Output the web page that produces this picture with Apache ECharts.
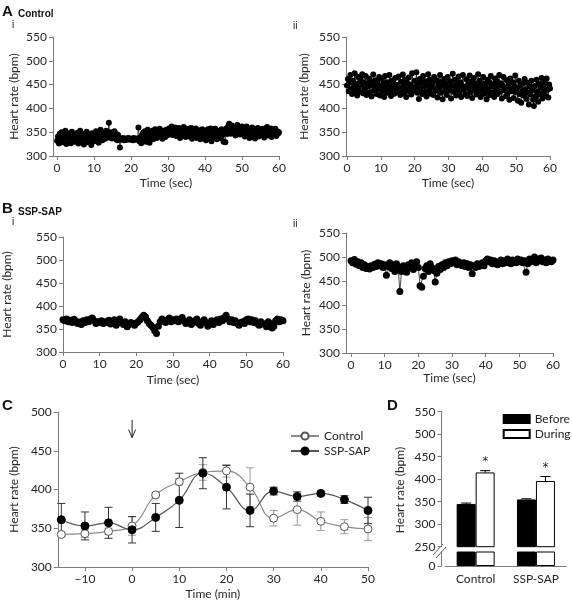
<!DOCTYPE html>
<html><head><meta charset="utf-8">
<script src="https://cdn.jsdelivr.net/npm/echarts@6/dist/echarts.min.js"></script>
<style>html,body{margin:0;padding:0;background:#fff}#c{width:572px;height:601px}</style>
</head><body><div id="c"></div>
<script>
// ---------- DATA ----------
const recordSec = 60;
const timeTicksSec = [0, 10, 20, 30, 40, 50, 60];
// Panel A i: Control, rest (samples evenly spread over 60 s)
const ctrlRest = [
332,341,326,347,336,350,329,344,338,353,325,340,348,333,345,327,351,337,343,330,346,
335,349,326,341,353,332,338,346,324,343,336,351,329,345,334,340,323,348,337,331,
344,352,335,340,328,347,355,338,333,349,342,336,353,345,339,370,344,350,337,346,
341,352,336,347,333,344,338,318,336,334,338,335,333,337,336,334,338,335,337,334,
336,333,338,335,334,337,336,360,331,339,327,344,349,336,352,330,345,355,338,328,
347,340,353,335,349,356,343,338,351,345,357,341,348,336,353,346,340,355,349,344,
358,347,352,362,344,355,349,360,342,353,346,359,338,351,356,345,361,348,340,354,
347,357,341,352,359,336,349,355,343,358,338,350,345,354,335,348,356,340,351,344,
333,349,356,341,346,358,331,352,344,339,357,347,335,353,342,349,338,356,345,330,
351,329,358,346,362,368,353,347,364,356,349,360,343,357,365,350,361,345,355,362,
348,358,341,354,362,346,351,338,357,349,360,343,352,337,355,347,359,341,350,356,
344,357,348,339,355,350,361,343,353,346,358,340,354,349,345,357,342,352,347,350];
// Panel A ii: Control, during
const ctrlActive = [
448,462,436,455,470,441,430,458,446,474,438,452,427,466,444,435,460,450,472,432,455,
440,468,428,452,446,463,434,457,425,449,471,437,444,459,430,453,441,466,427,447,
462,436,451,424,468,442,455,433,447,470,438,426,458,445,452,431,464,440,449,435,
467,443,428,456,439,471,447,432,460,424,453,441,465,436,450,429,474,444,437,458,
445,476,433,451,420,462,440,455,430,468,446,434,457,425,449,472,438,460,431,447,
454,428,466,441,437,459,423,450,444,470,433,456,419,447,462,436,452,428,466,443,
438,457,421,449,473,435,446,460,427,452,441,467,432,455,424,448,470,439,445,430,
461,426,450,443,469,434,456,422,447,464,438,453,429,445,472,436,458,424,449,440,
466,431,452,444,419,460,437,455,428,468,446,433,451,424,463,440,457,430,447,470,
435,453,421,448,466,438,444,426,459,432,450,418,463,441,436,455,422,447,469,434,
443,416,458,430,449,412,452,437,427,462,440,420,454,433,408,446,429,458,438,418,
405,447,425,460,435,414,452,430,444,464,421,448,436,456,426,463,439,423,450,442];
// Panel B i: SSP-SAP, rest
const sspRest = [
370,368,372,366,369,364,371,367,362,365,360,368,364,370,366,372,374,368,362,366,364,
368,362,366,364,369,361,365,370,358,366,372,363,360,366,355,360,364,362,358,363,
366,370,375,380,376,368,362,358,354,346,340,356,366,372,368,364,370,374,366,370,
368,372,366,370,375,368,362,366,370,360,364,368,372,362,358,366,370,364,356,362,
368,360,366,370,364,372,368,375,380,372,366,370,364,368,362,358,364,366,362,370,
372,366,370,364,368,362,358,366,362,360,355,366,362,352,356,368,372,366,370,368];
// Panel B ii: SSP-SAP, during
const sspActive = [
492,488,495,485,490,482,488,478,484,476,480,475,482,478,485,480,488,482,486,478,484,
462,480,488,476,484,470,486,478,428,470,482,476,468,484,478,488,474,482,490,478,
440,437,460,476,482,470,486,478,472,448,466,480,474,484,478,488,482,490,486,492,
488,494,484,490,486,482,488,480,486,478,484,465,482,478,486,480,484,488,482,492,
496,490,494,486,492,488,484,490,494,486,492,488,496,490,486,494,490,488,496,490,
494,488,492,468,486,496,490,494,500,488,496,492,498,490,494,488,496,492,490,494];

// Panel C: time course
const courseTime = [-15,-10,-5,0,5,10,15,20,25,30,35,40,45,50];
const courseTicks = [-10,0,10,20,30,40,50];
const courseCtrl    = [342,343,346,353,393,410,422,424,403,363,374,359,352,349];
const courseCtrlErr = [2,5,4,12,3,4,10,8,25,10,20,12,9,15];
const courseSsp     = [361,353,357,348,364,386,421,403,373,398,391,395,387,373];
const courseSspErr  = [21,18,20,17,18,35,20,28,21,5,6,3,5,17];
const injectionTime = 0;
const arrowFrom = 490, arrowTo = 467;

// Panel D: mean heart rate
const barGroups = ['Control', 'SSP-SAP'];
const barBefore = [345, 355];
const barBeforeErr = [2, 1.5];
const barDuring = [415, 396];
const barDuringErr = [4, 10];
const barSig = ['*', '*'];

// ---------- CHART ----------
const FONT = 'Lato';
const FS = 12;
const AX = '#7a7a7a', TX = '#262626';
const chart = echarts.init(document.getElementById('c'), null, {renderer: 'canvas'});

function secXAxis(grid, min, gap) {
  return {type:'value', gridIndex:grid, min:min, max:recordSec,
    name:'Time (sec)', nameLocation:'middle', nameGap:gap,
    nameTextStyle:{fontFamily:FONT, fontSize:FS, color:TX},
    axisLine:{show:true, onZero:false, lineStyle:{color:AX}},
    axisTick:{show:true, length:4, lineStyle:{color:AX}, customValues:timeTicksSec},
    axisLabel:{fontFamily:FONT, fontSize:FS, color:TX, margin:6, customValues:timeTicksSec},
    splitLine:{show:false}};
}
function hrYAxis(grid, min, max, gap, extra) {
  return Object.assign({type:'value', gridIndex:grid, min:min, max:max, interval:50,
    name:'Heart rate (bpm)', nameLocation:'middle', nameGap:gap,
    nameTextStyle:{fontFamily:FONT, fontSize:FS, color:TX},
    axisLine:{show:true, onZero:false, lineStyle:{color:AX}},
    axisTick:{show:true, length:4, lineStyle:{color:AX}},
    axisLabel:{fontFamily:FONT, fontSize:FS, color:TX, margin:6},
    splitLine:{show:false}}, extra || {});
}
function hrSeries(values, idx, size) {
  const step = recordSec / (values.length - 1);
  return {type:'line', xAxisIndex:idx, yAxisIndex:idx, silent:true, animation:false,
    data: values.map((v, i) => [i * step, v]),
    symbol:'circle', symbolSize:size, showAllSymbol:true,
    itemStyle:{color:'#000'}, lineStyle:{color:'#000', width:0.7}};
}
function errSeries(xs, means, errs, color, xi, yi, capW, opts) {
  opts = opts || {};
  return {type:'custom', xAxisIndex:xi, yAxisIndex:yi, silent:true, animation:false, z:opts.z || 2,
    data: xs.map((x, i) => [x, opts.upOnly ? means[i] : means[i] - errs[i], means[i] + errs[i], i]),
    renderItem: (params, api) => {
      const x = api.value(0);
      const lo = api.coord([x, api.value(1)]);
      const hi = api.coord([x, api.value(2)]);
      const cx = lo[0] + (opts.dx || 0);
      const st = {stroke:color, lineWidth:1};
      const ch = [
        {type:'line', shape:{x1:cx, y1:lo[1], x2:cx, y2:hi[1]}, style:st},
        {type:'line', shape:{x1:cx-capW/2, y1:hi[1], x2:cx+capW/2, y2:hi[1]}, style:st}];
      if (!opts.upOnly) ch.push({type:'line', shape:{x1:cx-capW/2, y1:lo[1], x2:cx+capW/2, y2:lo[1]}, style:st});
      if (opts.marks) ch.push({type:'text', style:{text:opts.marks[api.value(3)], x:cx, y:hi[1]-9,
        align:'center', verticalAlign:'middle', fontFamily:'DejaVu Sans', fontSize:12, fill:TX}});
      return {type:'group', children:ch};
    }};
}

const BAR_W = 19;
const BREAK_TOP = 240;
const lbl = (t, x, y, size, bold) => ({type:'text', left:x, top:y, silent:true,
  style:{text:t, fontFamily:'Liberation Sans', fontSize:size, fontWeight:bold ? 'bold' : 'normal', fill:'#111'}});

const option = {
  backgroundColor:'#fff',
  animation:false,
  textStyle:{fontFamily:FONT},
  grid:[
    {left:53, top:37, width:226, height:119},
    {left:346, top:37, width:204, height:119},
    {left:61.5, top:237, width:221.5, height:115},
    {left:346, top:233, width:207, height:120},
    {left:44, top:412, width:324, height:156},
    {left:445.5, top:411.7, width:120.6, height:135},
    {left:445.5, top:551.5, width:120.6, height:14.5}
  ],
  xAxis:[
    secXAxis(0, -1.1, 21),
    secXAxis(1, -0.3, 21),
    secXAxis(2, 0, 22),
    secXAxis(3, -1.5, 19),
    {type:'value', gridIndex:4, min:-15.75, max:50,
      name:'Time (min)', nameLocation:'middle', nameGap:21,
      nameTextStyle:{fontFamily:FONT, fontSize:FS, color:TX},
      axisLine:{show:true, onZero:false, lineStyle:{color:AX}},
      axisTick:{show:true, length:4, lineStyle:{color:AX}, customValues:courseTicks},
      axisLabel:{fontFamily:FONT, fontSize:FS, color:TX, margin:6, customValues:courseTicks,
        formatter:v => String(v).replace('-', '\u2212')},
      splitLine:{show:false}},
    {type:'category', gridIndex:5, data:barGroups, show:false},
    {type:'category', gridIndex:6, data:barGroups,
      axisLine:{show:true, onZero:false, lineStyle:{color:AX}}, axisTick:{show:false},
      axisLabel:{fontFamily:FONT, fontSize:FS, color:TX, margin:7}}
  ],
  yAxis:[
    hrYAxis(0, 300, 550, 33),
    hrYAxis(1, 300, 550, 36),
    hrYAxis(2, 300, 550, 50),
    hrYAxis(3, 300, 550, 34),
    hrYAxis(4, 300, 500, 36),
    hrYAxis(5, 250, 550, 35, {offset:4, name:''}),
    {type:'value', gridIndex:6, min:0, max:BREAK_TOP, offset:4,
      axisLine:{show:true, onZero:false, lineStyle:{color:AX}},
      axisTick:{show:true, length:4, lineStyle:{color:AX}, customValues:[0]},
      axisLabel:{fontFamily:FONT, fontSize:FS, color:TX, margin:6, customValues:[0]},
      splitLine:{show:false}}
  ],
  legend:[
    {left:285, top:425, orient:'vertical', itemWidth:28, itemHeight:9, itemGap:3,
      data:['Control', 'SSP-SAP'], textStyle:{fontFamily:FONT, fontSize:FS, color:TX}},
    {left:497.7, top:408, orient:'vertical', itemWidth:26, itemHeight:8, itemGap:3, icon:'rect',
      data:['Before', 'During'], textStyle:{fontFamily:FONT, fontSize:FS, color:TX}}
  ],
  graphic:[
    lbl('A', 2, 4, 15, true), lbl('Control', 18, 9, 10, true), lbl('i', 12, 20, 10, false),
    lbl('ii', 293, 21, 10, false),
    lbl('B', 2, 201, 15, true), lbl('SSP-SAP', 18, 207, 10, true), lbl('i', 12, 217, 10, false),
    lbl('ii', 293, 219, 10, false),
    lbl('C', 2, 398, 15, true), lbl('D', 387, 398, 15, true),
    {type:'text', x:400, y:490, rotation:Math.PI/2, silent:true,
      style:{text:'Heart rate (bpm)', fontFamily:FONT, fontSize:FS, fill:TX, align:'center', verticalAlign:'middle'}},
    {type:'line', silent:true, shape:{x1:433, y1:555, x2:443, y2:544}, style:{stroke:'#555', lineWidth:1}},
    {type:'line', silent:true, shape:{x1:436, y1:558, x2:446, y2:547}, style:{stroke:'#555', lineWidth:1}}
  ],
  series:[
    hrSeries(ctrlRest, 0, 6),
    hrSeries(ctrlActive, 1, 6),
    hrSeries(sspRest, 2, 7),
    hrSeries(sspActive, 3, 7),
    errSeries(courseTime, courseCtrl, courseCtrlErr, '#9a9a9a', 4, 4, 8),
    errSeries(courseTime, courseSsp, courseSspErr, '#333', 4, 4, 8),
    {type:'custom', xAxisIndex:4, yAxisIndex:4, silent:true, animation:false,
      data:[[injectionTime, arrowFrom, arrowTo]],
      renderItem:(p, api) => {
        const a = api.coord([api.value(0), api.value(1)]), b = api.coord([api.value(0), api.value(2)]);
        const st = {stroke:'#222', lineWidth:1, fill:null};
        return {type:'group', children:[
          {type:'line', shape:{x1:a[0], y1:a[1], x2:b[0], y2:b[1]}, style:st},
          {type:'polyline', shape:{points:[[b[0]-3.5, b[1]-8], [b[0], b[1]], [b[0]+3.5, b[1]-8]]}, style:st}]};
      }},
    {type:'line', name:'Control', xAxisIndex:4, yAxisIndex:4, z:3, animation:false,
      data:courseTime.map((t, i) => [t, courseCtrl[i]]), smooth:0.45,
      symbol:'circle', symbolSize:8,
      itemStyle:{color:'#fff', borderColor:'#555', borderWidth:1},
      lineStyle:{color:'#8a8a8a', width:1.2}},
    {type:'line', name:'SSP-SAP', xAxisIndex:4, yAxisIndex:4, z:4, animation:false,
      data:courseTime.map((t, i) => [t, courseSsp[i]]), smooth:0.45,
      symbol:'circle', symbolSize:8,
      itemStyle:{color:'#000', borderColor:'#000', borderWidth:1},
      lineStyle:{color:'#555', width:1.2}},
    {type:'bar', name:'Before', xAxisIndex:5, yAxisIndex:5, barWidth:BAR_W, barGap:'0%', animation:false,
      data:barBefore, itemStyle:{color:'#000', borderColor:'#000', borderWidth:1}},
    {type:'bar', name:'During', xAxisIndex:5, yAxisIndex:5, barWidth:BAR_W, barGap:'0%', animation:false,
      data:barDuring, itemStyle:{color:'#fff', borderColor:'#000', borderWidth:1}},
    {type:'bar', name:'Before', xAxisIndex:6, yAxisIndex:6, barWidth:BAR_W, barGap:'0%', animation:false,
      data:barBefore.map(v => Math.min(v, BREAK_TOP)), itemStyle:{color:'#000', borderColor:'#000', borderWidth:1}},
    {type:'bar', name:'During', xAxisIndex:6, yAxisIndex:6, barWidth:BAR_W, barGap:'0%', animation:false,
      data:barDuring.map(v => Math.min(v, BREAK_TOP)), itemStyle:{color:'#fff', borderColor:'#000', borderWidth:1}},
    errSeries([0, 1], barBefore, barBeforeErr, '#000', 5, 5, 10, {upOnly:true, dx:-BAR_W/2, z:5}),
    errSeries([0, 1], barDuring, barDuringErr, '#000', 5, 5, 10, {upOnly:true, dx:BAR_W/2, z:5, marks:barSig})
  ]
};
chart.setOption(option);
</script>
</body></html>
